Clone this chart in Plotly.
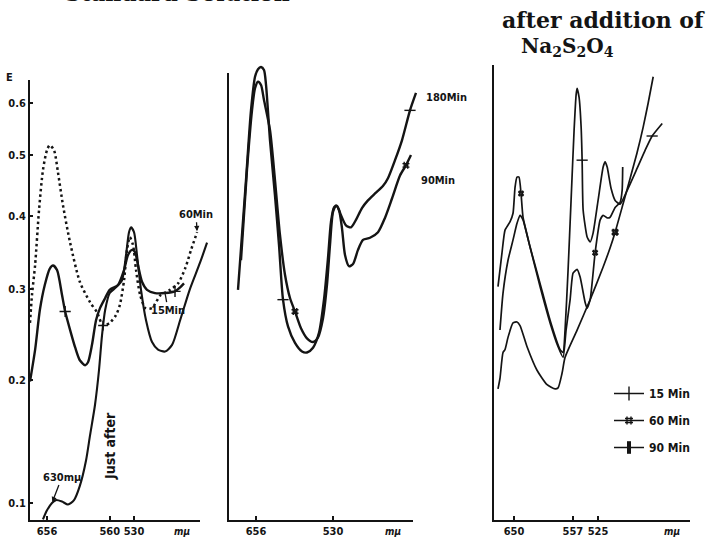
import numpy as np
import plotly.graph_objects as go

W, H = 710, 539
INK = "#141414"
SANS = "DejaVu Sans Condensed, DejaVu Sans, sans-serif"
SERIF = "DejaVu Serif, Liberation Serif, serif"

# ---------------- data: wavelength (mμ) and extinction E ----------------
# Panel 1 - standard solution
p1_just_wl = [663.3, 656, 647.2, 640.3, 630.2, 620.4, 610.9, 602, 592.8, 587, 580, 574.4, 570.3, 566, 560,
              551.9, 544.4, 539.5, 535.9, 533.5, 530, 526.5, 521.9, 516.3, 509.7, 503.3, 496, 488.9, 481, 472,
              462.5, 456.4]
p1_just_E = [0.089, 0.095, 0.100, 0.102, 0.101, 0.099, 0.102, 0.112, 0.131, 0.151, 0.177, 0.210, 0.246, 0.275,
             0.295, 0.302, 0.311, 0.344, 0.376, 0.383, 0.376, 0.344, 0.299, 0.263, 0.239, 0.231, 0.229, 0.236,
             0.263, 0.299, 0.334, 0.361]
p1_15_wl = [688, 678, 669, 660, 651, 645.4, 638.5, 630.2, 625, 617, 609, 602, 594, 589.9, 584.2, 578.5, 573, 566,
            560, 549.4, 541.9, 537.1, 532.3, 528.8, 525.3, 520.8, 515.2, 506.5, 496, 486, 481, 477.3]
p1_15_E = [0.199, 0.231, 0.275, 0.305, 0.326, 0.330, 0.324, 0.293, 0.273, 0.252, 0.233, 0.220, 0.215, 0.218,
           0.236, 0.263, 0.277, 0.289, 0.299, 0.305, 0.324, 0.344, 0.351, 0.348, 0.330, 0.309, 0.299, 0.295,
           0.295, 0.297, 0.302, 0.307]
p1_60_wl = [688, 684, 678, 670.6, 663.3, 656, 651, 643.7, 636.9, 628.5, 617, 602, 587, 577.1, 568.9, 560, 551.9,
            547, 541.9, 538.3, 535, 531.2, 527.6, 523, 517, 509.7, 501, 491, 483, 476, 470.7, 465.2]
p1_60_E = [0.260, 0.293, 0.331, 0.409, 0.474, 0.509, 0.518, 0.509, 0.470, 0.416, 0.361, 0.309, 0.284, 0.272,
           0.257, 0.260, 0.269, 0.281, 0.311, 0.351, 0.369, 0.358, 0.324, 0.293, 0.277, 0.277, 0.292, 0.299,
           0.307, 0.327, 0.351, 0.376]
p1_15_marks = [8, 29]
p1_60_marks = [14]

# Panel 2
p2_180_wl = [694.6, 676.9, 666.3, 658, 652, 646, 640.2, 636.3, 628.8, 619.7, 612.5, 605.5, 597, 585.5, 574.4,
             566.8, 557.8, 549.2, 542.2, 536.7, 532.7, 528.7, 524.8, 519.6, 513.4, 507.2, 501.3, 494.3, 487.5,
             479.7, 471.3, 466.1, 459, 452.2, 444.6, 439.1]
p2_180_E = [0.299, 0.457, 0.585, 0.656, 0.673, 0.678, 0.671, 0.638, 0.527, 0.432, 0.358, 0.287, 0.256, 0.238,
            0.229, 0.228, 0.233, 0.249, 0.287, 0.340, 0.391, 0.413, 0.415, 0.401, 0.386, 0.383, 0.394, 0.412,
            0.424, 0.435, 0.447, 0.460, 0.491, 0.527, 0.585, 0.621]
p2_90_wl = [687.9, 674.8, 664.2, 658, 652, 646, 640.2, 628.8, 619.7, 610.8, 602.1, 593.7, 585.5, 576, 566.8,
            557.8, 550.6, 543.6, 538.1, 534, 530, 526, 522.2, 518.4, 514.6, 509.7, 504.8, 498.9, 493.1, 485.2,
            476.5, 469.2, 462, 454, 448.4, 443.7]
p2_90_E = [0.337, 0.474, 0.585, 0.631, 0.645, 0.638, 0.606, 0.546, 0.457, 0.372, 0.318, 0.289, 0.273, 0.254,
           0.243, 0.239, 0.244, 0.265, 0.305, 0.358, 0.406, 0.416, 0.409, 0.382, 0.344, 0.329, 0.332, 0.351,
           0.365, 0.368, 0.376, 0.397, 0.427, 0.465, 0.482, 0.500]
p2_180_marks = [11, 34]
p2_90_marks = [12, 34]

# Panel 3 - after addition of Na2S2O4
p3_15_wl = [676.9, 670.9, 661.2, 651.8, 644.5, 639.1, 633.8, 621.7, 605.3, 589.7, 574.9, 570.6, 567.8, 563.6,
            559.5, 555.4, 552.7, 551.4, 548.8, 546.1, 544.8, 543.5, 538.4, 534.6, 530.9, 524.9, 518.9, 516.6,
            514.2, 509.7, 505.2, 499.7, 492.1, 481.8, 473.8, 467.1, 457.7]
p3_15_E = [0.252, 0.295, 0.337, 0.365, 0.389, 0.401, 0.394, 0.355, 0.307, 0.263, 0.231, 0.228, 0.252, 0.324,
           0.424, 0.546, 0.617, 0.631, 0.612, 0.552, 0.491, 0.409, 0.369, 0.362, 0.375, 0.424, 0.479, 0.488,
           0.479, 0.443, 0.424, 0.418, 0.440, 0.477, 0.509, 0.535, 0.559]
p3_60_wl = [680.9, 672.9, 667, 657.5, 651.8, 648.1, 644.5, 640.9, 637.3, 633.8, 621.7, 605.3, 589.7, 577.8,
            570.6, 566.4, 560.8, 556.8, 551.4, 547.4, 541, 538.4, 534.6, 528.5, 522.4, 518.9, 514.2, 510.8,
            505.2, 499.7, 497.5, 496.9]
p3_60_E = [0.303, 0.347, 0.379, 0.391, 0.404, 0.445, 0.462, 0.462, 0.435, 0.398, 0.355, 0.303, 0.260, 0.234,
           0.223, 0.252, 0.287, 0.320, 0.325, 0.315, 0.284, 0.277, 0.287, 0.347, 0.394, 0.401, 0.397, 0.398,
           0.413, 0.421, 0.440, 0.479]
p3_90_wl = [680.9, 676.9, 670.9, 667, 661.2, 651.8, 644.5, 639.1, 626.8, 610.2, 594.3, 582.2, 577.8, 572.1,
            567.8, 551.4, 534.6, 518.9, 510.8, 505.2, 496.4, 489, 481.8, 475.8, 470.9, 466.1]
p3_90_E = [0.192, 0.202, 0.228, 0.231, 0.244, 0.260, 0.261, 0.257, 0.234, 0.210, 0.196, 0.192, 0.193, 0.207,
           0.223, 0.252, 0.287, 0.328, 0.354, 0.376, 0.419, 0.460, 0.505, 0.552, 0.600, 0.656]
p3_15_marks = [20, 35]
p3_60_marks = [8, 23]
p3_90_marks = [19]

# tick labels
E_TICKS = [0.1, 0.2, 0.3, 0.4, 0.5, 0.6]
E_TICK_TEXT = ["0.1", "0.2", "0.3", "0.4", "0.5", "0.6"]
P1_TICKS = [656, 560, 530]
P2_TICKS = [656, 530]
P3_TICKS = [650, 557, 525]
LEGEND_NAMES = ["15 Min", "60 Min", "90 Min"]

# ---------------- scales ----------------
E_OFF = 0.15  # E axis of the original is logarithmic in (E + 0.15)


def nu(wl):
    return 1e4 / np.asarray(wl, dtype=float)  # wavelength axis is linear in 1/λ


Y_CAL = (0.1, 503.0, 0.6, 103.0)


def ylog_at(px):
    e0, p0, e1, p1 = Y_CAL
    l0, l1 = np.log10(e0 + E_OFF), np.log10(e1 + E_OFF)
    return float(l0 + (p0 - px) * (l1 - l0) / (p0 - p1))


X_CAL = {1: (656, 47.0, 530, 134.0), 2: (656, 256.0, 530, 333.0), 3: (650, 514.0, 525, 598.0)}


def xrange_px(panel, a, b):
    wa, pa, wb, pb = X_CAL[panel]
    na, nb = float(nu(wa)), float(nu(wb))
    s = (pb - pa) / (nb - na)
    return [na + (a - pa) / s, na + (b - pa) / s]


def xdom(a, b):
    return [a / W, b / W]


def ydom(bottom_px, top_px):
    return [(H - bottom_px) / H, (H - top_px) / H]


AXIS_Y = 520
PANELS = {1: (30, 200, 80), 2: (229, 413, 73), 3: (494, 690, 65)}
DATA_REGION = {1: (0, 226), 2: (226, 488), 3: (488, 710)}

fig = go.Figure()

# empty traces so that the three framed (axis) subplots are drawn
for sx in ("", "2", "3"):
    fig.add_trace(go.Scatter(x=[None], y=[None], xaxis=f"x{sx}", yaxis=f"y{sx}", mode="lines",
                             showlegend=False, hoverinfo="skip"))


def curve(wl, E, panel, width=2.1, dash="solid", smoothing=0.7):
    fig.add_trace(go.Scatter(
        x=nu(wl), y=np.asarray(E) + E_OFF, xaxis=f"x{panel + 3}", yaxis="y4", mode="lines",
        line=dict(color=INK, width=width, dash=dash, shape="spline", smoothing=smoothing),
        showlegend=False, hoverinfo="skip"))


def marks(wl, E, idx, panel, symbol, size=8, lw=1.4, angle=0):
    wl = np.asarray(wl, dtype=float)[idx]
    E = np.asarray(E, dtype=float)[idx]
    fig.add_trace(go.Scatter(
        x=nu(wl), y=E + E_OFF, xaxis=f"x{panel + 3}", yaxis="y4", mode="markers",
        marker=dict(symbol=symbol, size=size, color=INK, angle=angle, line=dict(color=INK, width=lw)),
        showlegend=False, hoverinfo="skip"))


# panel 1
curve(p1_60_wl, p1_60_E, 1, width=2.5, dash="2.5px,3px")
curve(p1_just_wl, p1_just_E, 1, width=2.1)
curve(p1_15_wl, p1_15_E, 1, width=2.4)
marks(p1_15_wl, p1_15_E, p1_15_marks, 1, "cross-thin-open", 8)
marks(p1_60_wl, p1_60_E, p1_60_marks, 1, "cross-thin-open", 7)
# panel 2
curve(p2_180_wl, p2_180_E, 2, width=2.4)
curve(p2_90_wl, p2_90_E, 2, width=2.4)
marks(p2_180_wl, p2_180_E, p2_180_marks, 2, "line-ew-open", 8)
marks(p2_90_wl, p2_90_E, p2_90_marks, 2, "hash-open", 7)
# panel 3
curve(p3_15_wl, p3_15_E, 3, width=1.7, smoothing=0.5)
curve(p3_60_wl, p3_60_E, 3, width=1.7, smoothing=0.5)
curve(p3_90_wl, p3_90_E, 3, width=1.7, smoothing=0.6)
marks(p3_15_wl, p3_15_E, p3_15_marks, 3, "line-ew-open", 8)
marks(p3_60_wl, p3_60_E, p3_60_marks, 3, "hash-open", 6)
marks(p3_90_wl, p3_90_E, p3_90_marks, 3, "hash-open", 7, lw=2)

# legend entries (panel 3 key)
leg_symbols = [("line-ns-open", 10, 1.4), ("hash-open", 8, 1.4), ("line-ns-open", 9, 4.0)]
for name, (sym, sz, lw) in zip(LEGEND_NAMES, leg_symbols):
    fig.add_trace(go.Scatter(
        x=[None], y=[None], xaxis="x6", yaxis="y4", mode="lines+markers", name=name, legendgroup=name,
        line=dict(color=INK, width=1.5),
        marker=dict(symbol=sym, size=sz, color=INK, line=dict(color=INK, width=lw))))

# ---------------- axes ----------------
tickfont = dict(family=SANS, size=11, color=INK, weight="bold")
base = dict(showgrid=False, zeroline=False, showline=True, linecolor=INK, linewidth=2,
            fixedrange=True, automargin=False)
layout = dict(width=W, height=H, margin=dict(l=0, r=0, t=0, b=0), paper_bgcolor="white",
              plot_bgcolor="rgba(0,0,0,0)", showlegend=True)

for p, ticks in zip((1, 2, 3), (P1_TICKS, P2_TICKS, P3_TICKS)):
    x0, x1, top = PANELS[p]
    sx = "" if p == 1 else str(p)
    layout[f"xaxis{sx}"] = dict(base, domain=xdom(x0, x1), range=xrange_px(p, x0, x1), anchor=f"y{sx}",
                                tickmode="array", tickvals=list(nu(ticks)), ticktext=[str(t) for t in ticks],
                                ticks="inside", ticklen=4, tickwidth=1.5, tickcolor=INK, tickfont=tickfont)
    yax = dict(base, type="log", domain=ydom(AXIS_Y, top), range=[ylog_at(AXIS_Y), ylog_at(top)],
               anchor=f"x{sx}")
    if p == 1:
        yax.update(tickmode="array", tickvals=[e + E_OFF for e in E_TICKS], ticktext=E_TICK_TEXT,
                   ticks="inside", ticklen=3, tickwidth=1.5, tickcolor=INK, tickfont=tickfont)
    else:
        yax.update(showticklabels=False, ticks="")
    layout[f"yaxis{sx}"] = yax

for p in (1, 2, 3):
    a, b = DATA_REGION[p]
    layout[f"xaxis{p + 3}"] = dict(visible=False, domain=xdom(a, b), range=xrange_px(p, a, b),
                                   anchor="y4", fixedrange=True)
layout["yaxis4"] = dict(visible=False, type="log", domain=[0, 1], range=[ylog_at(H), ylog_at(0)],
                        anchor="x4", fixedrange=True)

layout["legend"] = dict(x=609 / W, y=(H - 379) / H, xanchor="left", yanchor="top",
                        bgcolor="rgba(0,0,0,0)", font=dict(family=SANS, size=12, color=INK, weight="bold"),
                        tracegroupgap=8, itemclick=False)


def pp(x, y):
    return x / W, (H - y) / H


ann = []


def text(s, x, y, size=11, font=SANS, **kw):
    px, py = pp(x, y)
    d = dict(text=s, x=px, y=py, xref="paper", yref="paper", showarrow=False,
             xanchor="center", yanchor="middle",
             font=dict(family=font, size=size, color=INK, weight="bold"))
    d.update(kw)
    ann.append(d)


text("Standard Solution", 177, 8, size=22, font=SERIF, yanchor="bottom")
text("after addition of", 603, 20, size=22, font=SERIF)
text("Na<sub>2</sub>S<sub>2</sub>O<sub>4</sub>", 567, 47, size=20, font=SERIF)
text("E", 9, 78, size=11)
text("<i>mμ</i>", 182, 531, size=10)
text("<i>mμ</i>", 393, 531, size=10)
text("<i>mμ</i>", 672, 531, size=10)
text("Just after", 110, 446, size=14, textangle=-90)
text("180Min", 446, 97, size=11)
text("90Min", 438, 180, size=11)


def pointer(s, wl, E, panel, ax, ay, head=2, size=11):
    # log axis: annotation position is given in log10 units
    ann.append(dict(text=s, x=float(nu(wl)), y=float(np.log10(E + E_OFF)), xref=f"x{panel + 3}", yref="y4",
                    showarrow=True, ax=ax, ay=ay, arrowhead=head, arrowsize=0.8, arrowwidth=1.3,
                    arrowcolor=INK, standoff=1,
                    font=dict(family=SANS, size=size, color=INK, weight="bold")))


pointer("60Min", p1_60_wl[-1], p1_60_E[-1], 1, -1, -18)
pointer("15Min", p1_15_wl[28], p1_15_E[28], 1, 3, 17, head=0)
pointer("630mμ", p1_just_wl[2], p1_just_E[2], 1, 10, -26)

layout["annotations"] = ann
fig.update_layout(**layout)
fig.write_html("out.html")
